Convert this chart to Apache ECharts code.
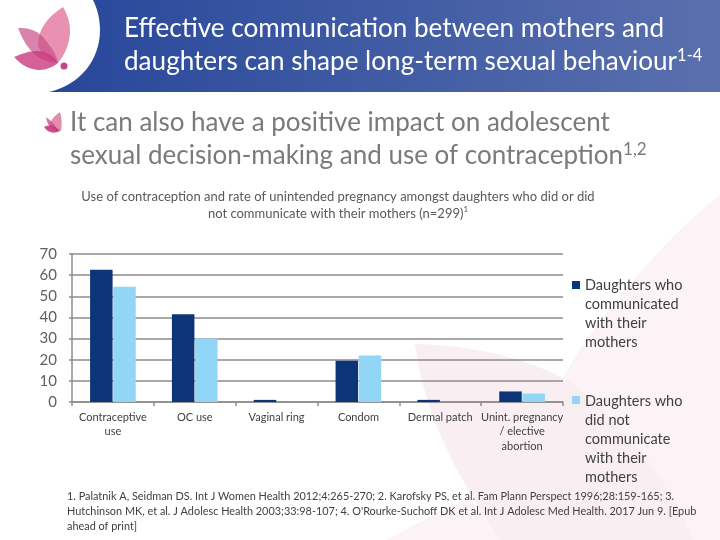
<!DOCTYPE html>
<html><head><meta charset="utf-8">
<style>html,body{margin:0;padding:0;background:#fff}#c{width:720px;height:540px}</style>
<script src="https://cdn.jsdelivr.net/npm/echarts@6/dist/echarts.min.js"></script>
</head><body><div id="c"></div>
<script>
const categories = ['Contraceptive\nuse','OC use','Vaginal ring','Condom','Dermal patch','Unint. pregnancy\n/ elective\nabortion'];
const communicated = [62.5,41.5,1,19.5,1,5];
const notCommunicated = [54.5,30,0,22,0,4];
const seriesNames = ['Daughters who\ncommunicated\nwith their\nmothers','Daughters who\ndid not\ncommunicate\nwith their\nmothers'];
const yTicks = [0,10,20,30,40,50,60,70];
const chartTitle = 'Use of contraception and rate of unintended pregnancy amongst daughters who did or did\nnot communicate with their mothers (n=299){s|1}';
const footnotes = ['1. Palatnik A, Seidman DS. Int J Women Health 2012;4:265-270; 2. Karofsky PS, et al. Fam Plann Perspect 1996;28:159-165; 3.',
'Hutchinson MK, et al. J Adolesc Health 2003;33:98-107; 4. O\'Rourke-Suchoff DK et al. Int J Adolesc Med Health. 2017 Jun 9. [Epub',
'ahead of print]'];
const F='Lato';
const blue='#0b3578', light='#91d6f7';
const chart=echarts.init(document.getElementById('c'),null,{renderer:'canvas'});
function text(x,y,t,size,color,rich){return {type:'text',x,y,z:5,style:{text:t,fontFamily:F,fontSize:size,fill:color,verticalAlign:'middle',rich:rich||{}}};}
let pid=0;
function pathEl(d,style,z){const n='p'+(pid++);echarts.graphic.registerShape(n,echarts.graphic.extendPath(d,{}));return {type:n,z,silent:true,style};}
const petal=(d,fill,op)=>pathEl(d,{fill,opacity:op},3);
chart.setOption({
 animation:false,
 backgroundColor:'#fff',
 title:{text:chartTitle,left:333,top:183,textAlign:'center',
  textStyle:{fontFamily:F,fontSize:13,fontWeight:'normal',color:'#595959',lineHeight:17,
   rich:{s:{fontFamily:F,fontSize:8,color:'#595959',verticalAlign:'top',lineHeight:17}}}},
 grid:{left:72,right:157,top:254,bottom:138},
 legend:[
  {left:572,top:276,orient:'vertical',itemWidth:8,itemHeight:76,padding:0,itemGap:0,selectedMode:false,
   data:[{name:seriesNames[0],icon:'path://M0,0H0.01V0.01H0Z M0,5H8V13H0Z M0,76H0.01V76.01H0Z'}],
   textStyle:{fontFamily:F,fontSize:14.5,color:'#404040',lineHeight:19,padding:[0,0,0,0]}},
  {left:572,top:392,orient:'vertical',itemWidth:8,itemHeight:95,padding:0,itemGap:0,selectedMode:false,
   data:[{name:seriesNames[1],icon:'path://M0,0H0.01V0.01H0Z M0,4H8V12H0Z M0,95H0.01V95.01H0Z'}],
   textStyle:{fontFamily:F,fontSize:14.5,color:'#404040',lineHeight:19,padding:[0,0,0,0]}}
 ],
 xAxis:{type:'category',data:categories,
  axisLine:{lineStyle:{color:'#8c8c8c',width:1.5}},
  axisTick:{show:true,length:4,alignWithLabel:false,lineStyle:{color:'#8c8c8c',width:1.5}},
  axisLabel:{fontFamily:F,fontSize:11,color:'#404040',lineHeight:14.5,margin:8,interval:0}},
 yAxis:{type:'value',min:0,max:70,interval:10,
  axisLine:{show:true,lineStyle:{color:'#8c8c8c',width:1.5}},
  axisTick:{show:true,length:3,lineStyle:{color:'#8c8c8c',width:1.5}},
  splitLine:{lineStyle:{color:'#8c8c8c',width:1.5}},
  axisLabel:{fontFamily:F,fontSize:15,color:'#606060',margin:15,formatter:v=>yTicks.includes(v)?String(v):''}},
 series:[
  {type:'bar',name:seriesNames[0],data:communicated,barWidth:22.5,barGap:'3%',itemStyle:{color:blue},z:4},
  {type:'bar',name:seriesNames[1],data:notCommunicated,barWidth:22.5,barGap:'3%',itemStyle:{color:light},z:4}
 ],
 graphic:[
  pathEl('M720,195 C680,225 600,310 563,378 C610,410 665,475 693,540 L720,540 Z',{fill:'#fbf3f6'},-1),
  pathEl('M415,344 C470,345 530,358 570,382 C620,420 670,480 693,540 L500,540 C460,480 425,420 415,344 Z',{fill:'#f9eff3'},-1),
  pathEl('M387,540 C415,525 445,508 470,497 L500,540 Z',{fill:'#fbf3f6'},-1),
  pathEl('M49,92 C80,85 100,60 100,30 C100,18 97,8 93,0 L720,0 L720,92 Z',{fill:new echarts.graphic.LinearGradient(0,0,1,0,[{offset:0,color:'#27479a'},{offset:1,color:'#5a70ae'}])},1),
  petal('M63,7 C47,17 38,30 38,45 C40,54 50,58 58,63 C69,50 76,28 63,7 Z','#e585a8',0.9),
  petal('M18,28 C30,27 42,32 49,45 C55,52 57,58 58,63 C40,62 27,52 18,28 Z','#c74f88',0.7),
  petal('M14,57 C28,51 46,45 58,63 C46,73 28,73 14,57 Z','#c93a7e',0.8),
  {type:'circle',z:3,shape:{cx:64,cy:66,r:3.5},style:{fill:'#bf4a8a'}},
  petal('M60,112 C54,116 50,121 50,125 C52,129 56,130 61,131 C62,125 62,118 60,112 Z','#e07fa5',0.9),
  petal('M46,117 C50,120 55,124 58,131 C52,131 48,127 46,117 Z','#c74f88',0.8),
  petal('M44,127 C50,124 56,126 60,131 C54,134 48,133 44,127 Z','#c93a7e',0.9),
  text(124,29,'Effective communication between mothers and',26.1,'#ffffff'),
  text(124,62,'daughters can shape long-term sexual behaviour{s|1-4}',26.1,'#ffffff',{s:{fontFamily:F,fontSize:16.5,fill:'#ffffff',padding:[0,0,12,0]}}),
  text(70,123,'It can also have a positive impact on adolescent',26,'#7a7a7a'),
  text(70,156,'sexual decision-making and use of contraception{s|1,2}',26,'#7a7a7a',{s:{fontFamily:F,fontSize:17,fill:'#7a7a7a',padding:[0,0,12,0]}}),
  text(67,496,footnotes[0],10.9,'#404040'),
  text(67,511,footnotes[1],10.9,'#404040'),
  text(67,526,footnotes[2],10.9,'#404040')
 ]
});
</script></body></html>
